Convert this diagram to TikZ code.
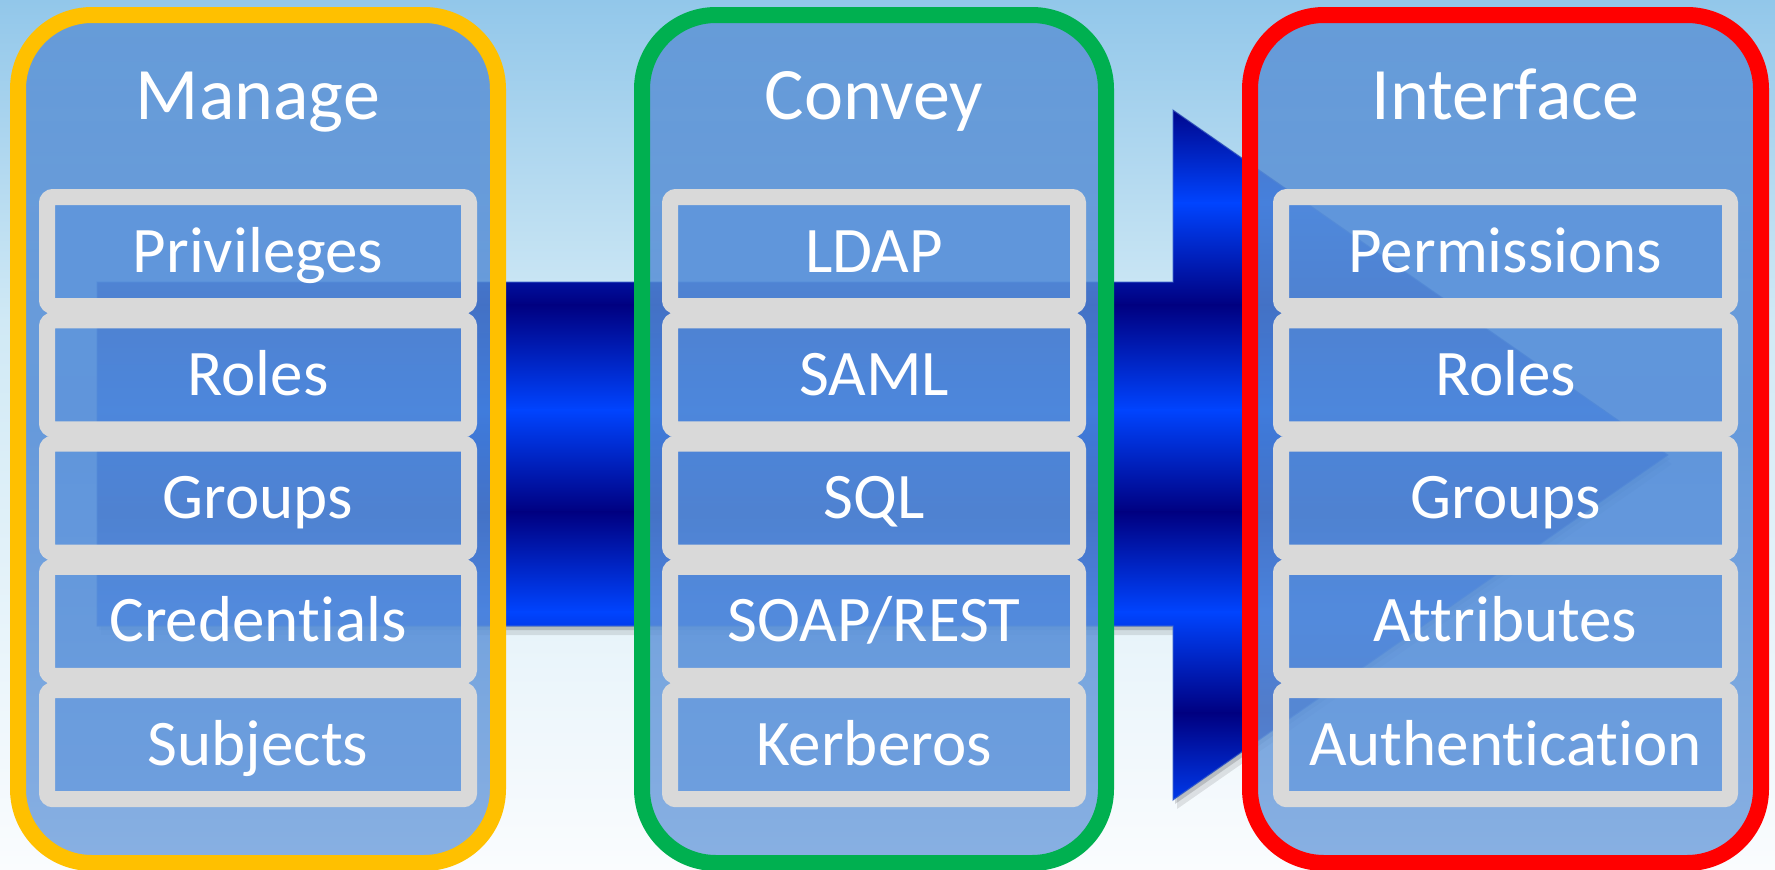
\documentclass[tikz,border=0pt]{standalone}
\usepackage{fontspec}
\setmainfont{Carlito}[Ligatures={NoCommon}]
\definecolor{skytop}{RGB}{146,199,234}
\definecolor{skymid}{RGB}{208,233,245}
\definecolor{skybot}{RGB}{250,252,254}
\definecolor{adark}{RGB}{0,0,128}
\definecolor{abright}{RGB}{0,68,255}
\definecolor{aedge}{RGB}{70,110,210}
\definecolor{coltop}{RGB}{92,146,213}
\definecolor{colmid}{RGB}{78,136,213}
\definecolor{colbot}{RGB}{112,160,220}
\definecolor{boxfill}{RGB}{90,146,220}
\definecolor{framegray}{RGB}{217,217,217}
\definecolor{manageC}{RGB}{255,192,0}
\definecolor{conveyC}{RGB}{0,176,80}
\definecolor{interfaceC}{RGB}{255,0,0}
\begin{document}
\begin{tikzpicture}[x=1pt,y=-1pt,
  column/.style={rectangle, rounded corners=74pt, line width=16pt, minimum height=848pt,
    top color=coltop, bottom color=colbot, middle color=colmid, fill opacity=0.82,
    inner sep=0pt, outer sep=0pt},
  itembox/.style={rectangle, rounded corners=6pt, draw=framegray, line width=16pt,
    fill=boxfill, fill opacity=0.5, text opacity=1, text=white, minimum height=109pt,
    text height=41pt, text depth=0pt, inner sep=0pt,
    font=\fontsize{65}{70}\selectfont},
  coltitle/.style={anchor=base, text=white, inner sep=0pt, font=\fontsize{74}{80}\selectfont}]
\useasboundingbox (0,0) rectangle (1775,870);
% sky background
\fill[top color=skytop, bottom color=skymid] (0,0) rectangle (1775,321);
\fill[top color=skymid, bottom color=skybot] (0,320) rectangle (1775,870);
% arrow shadow
\fill[black, opacity=0.10, shift={(4,9)}] (97,282) -- (1173,282) -- (1173,110) -- (1668,455) -- (1173,800) -- (1173,626) -- (97,626) -- cycle;
\fill[black, opacity=0.15, shift={(2,4)}] (97,282) -- (1173,282) -- (1173,110) -- (1668,455) -- (1173,800) -- (1173,626) -- (97,626) -- cycle;
% arrow body with banded gradient
\begin{scope}
\clip (97,282) -- (1173,282) -- (1173,110) -- (1668,455) -- (1173,800) -- (1173,626) -- (97,626) -- cycle;
\foreach \ya/\yb/\ca/\cb in {100/203/adark/abright, 203/305/abright/adark, 305/410/adark/abright,
  410/512/abright/adark, 512/612/adark/abright, 612/713/abright/adark, 713/817/adark/abright}
  \fill[top color=\ca, bottom color=\cb] (90,\ya-0.6) rectangle (1700,\yb+0.6);
\end{scope}
\draw[aedge, line width=1.2pt, opacity=0.6] (97,282) -- (1173,282) -- (1173,110) -- (1668,455) -- (1173,800) -- (1173,626) -- (97,626) -- cycle;
% columns
\node[column, draw=manageC, minimum width=480pt] (manage) at (258,439) {};
\node[column, draw=conveyC, minimum width=464pt] (convey) at (874,439) {};
\node[column, draw=interfaceC, minimum width=511pt] (interface) at (1505.5,439) {};
% titles
\node[coltitle] (manageT) at (258,119) {Manage};
\node[coltitle] (conveyT) at (874,119) {Convey};
\node[coltitle] (interfaceT) at (1505.5,119) {Interface};
% items
\foreach \t [count=\k from 0] in {Privileges,Roles,Groups,Credentials,Subjects}
  \node[itembox, minimum width=422pt] (m\k) at (258,{251.5+123.3*\k}) {\t};
\foreach \t [count=\k from 0] in {LDAP,SAML,SQL,SOAP/REST,Kerberos}
  \node[itembox, minimum width=408pt] (c\k) at (874,{251.5+123.3*\k}) {\t};
\foreach \t [count=\k from 0] in {Permissions,Roles,Groups,Attributes,Authentication}
  \node[itembox, minimum width=449pt] (i\k) at (1505.5,{251.5+123.3*\k}) {\t};
\end{tikzpicture}
\end{document}
